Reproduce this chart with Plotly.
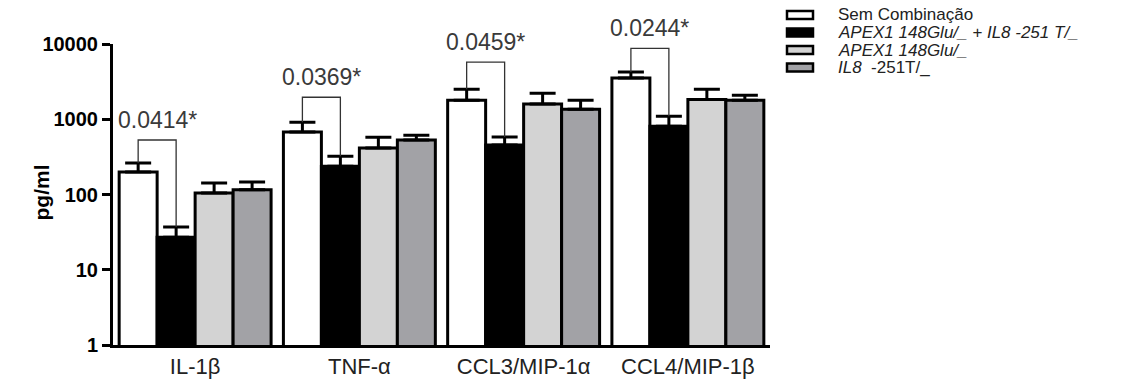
import numpy as np
import plotly.graph_objects as go

# ---------------- data ----------------
categories = ["IL-1β", "TNF-α", "CCL3/MIP-1α", "CCL4/MIP-1β"]
series_names = [
    "Sem Combinação",
    "<i>APEX1 148Glu/_ + IL8 -251 T/_</i>",
    "<i>APEX1 148Glu/_</i>",
    "<i>IL8</i>&nbsp; -251T/_",
]
mean_sem_comb = [199, 675, 1790, 3530]
mean_combined = [27, 238, 455, 810]
mean_apex1 = [105, 414, 1590, 1830]
mean_il8 = [116, 530, 1360, 1790]

upper_sem_comb = [262, 915, 2510, 4240]
upper_combined = [37, 323, 580, 1100]
upper_apex1 = [142, 578, 2220, 2510]
upper_il8 = [147, 615, 1790, 2090]

bracket_top = [530, 1960, 5740, 8750]
p_labels = ["0.0414*", "0.0369*", "0.0459*", "0.0244*"]

ytick_vals = [1, 10, 100, 1000, 10000]
ytick_text = ["1", "10", "100", "1000", "10000"]

# ---------------- style ----------------
colors = ["#ffffff", "#000000", "#d3d3d3", "#a2a2a6"]
FONT = "Liberation Sans, Arial, sans-serif"
BARGAP = 0.075

# plot area in pixels (for paper coordinate helpers)
L, R, T, B = 113, 368, 44, 40
W, H = 1138, 385
PW, PH = W - L - R, H - T - B


def px_x(px):
    return (px - L) / PW


def px_y(py):
    return (H - B - py) / PH


fig = go.Figure()
means = [mean_sem_comb, mean_combined, mean_apex1, mean_il8]
uppers = [upper_sem_comb, upper_combined, upper_apex1, upper_il8]
xpos = list(range(len(categories)))

for name, m, u, c in zip(series_names, means, uppers, colors):
    m_arr = np.array(m, dtype=float)
    u_arr = np.array(u, dtype=float)
    fig.add_trace(go.Bar(
        x=xpos, y=m_arr, name=name, showlegend=False,
        marker=dict(color=c, line=dict(color="black", width=3)),
        error_y=dict(type="data", symmetric=False, array=u_arr - m_arr,
                     arrayminus=np.zeros_like(m_arr),
                     color="black", thickness=3, width=13),
    ))

# significance brackets between first two bars of each group
bw = (1 - BARGAP) / 4
for i in range(len(categories)):
    xl = i - 1.5 * bw
    xr = i - 0.5 * bw
    h = bracket_top[i]
    fig.add_trace(go.Scatter(
        x=[xl, xl, xr, xr], y=[upper_sem_comb[i], h, h, upper_combined[i]],
        mode="lines", line=dict(color="#333333", width=1.3),
        showlegend=False, hoverinfo="skip",
    ))
    fig.add_annotation(
        x=(xl + xr) / 2, y=np.log10(h), xref="x", yref="y",
        text=p_labels[i], showarrow=False, yanchor="bottom", yshift=5,
        font=dict(family=FONT, size=23, color="#3a3a3a"),
    )

# y-axis title
fig.add_annotation(
    x=px_x(27), y=px_y(193), xref="paper", yref="paper",
    text="<b>pg/ml</b>", textangle=-90, showarrow=False,
    font=dict(family=FONT, size=21, color="black"),
)

# manual legend
legend_rows = [15, 32.5, 50, 67.5]
for name, c, ry in zip(series_names, colors, legend_rows):
    fig.add_shape(
        type="rect", xref="paper", yref="paper",
        x0=px_x(787), x1=px_x(813), y0=px_y(ry + 4), y1=px_y(ry - 4),
        line=dict(color="black", width=2.5), fillcolor=c,
    )
    fig.add_annotation(
        x=px_x(836), y=px_y(ry), xref="paper", yref="paper",
        text=name, showarrow=False, xanchor="left", yanchor="middle",
        font=dict(family=FONT, size=17, color="#222222"),
    )

fig.update_layout(
    width=W, height=H,
    margin=dict(l=L, r=R, t=T, b=B, pad=0, autoexpand=False),
    paper_bgcolor="white", plot_bgcolor="white",
    barmode="group", bargap=BARGAP, bargroupgap=0,
    showlegend=False,
    font=dict(family=FONT, color="black"),
)
fig.update_xaxes(
    range=[-0.5, len(categories) - 0.5],
    tickvals=xpos, ticktext=categories,
    showline=True, linecolor="black", linewidth=3,
    ticks="", showgrid=False, zeroline=False, automargin=False,
    ticklabelstandoff=0,
    tickfont=dict(family=FONT, size=22, color="#222222"),
)
fig.update_yaxes(
    type="log", range=[0, 4],
    tickvals=ytick_vals, ticktext=["<b>%s</b>" % t for t in ytick_text],
    showline=True, linecolor="black", linewidth=3,
    ticks="outside", ticklen=8, tickwidth=3, tickcolor="black",
    showgrid=False, zeroline=False, automargin=False,
    tickfont=dict(family=FONT, size=20, color="black"),
)

fig.write_html("out.html")
